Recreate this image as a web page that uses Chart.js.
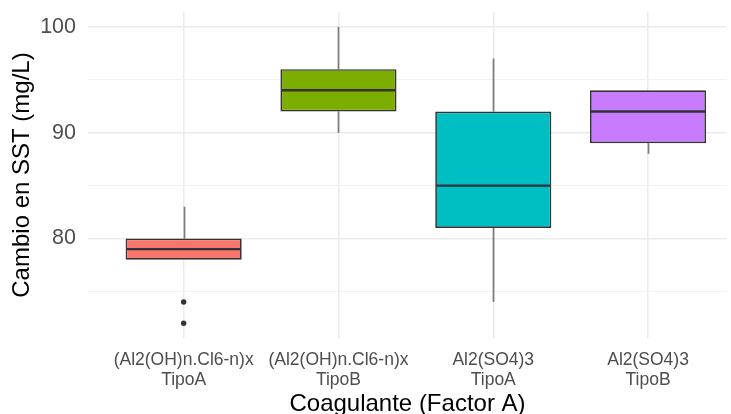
<!DOCTYPE html>
<html>
<head>
<meta charset="utf-8">
<title>Cambio en SST por coagulante</title>
<script src="https://cdn.jsdelivr.net/npm/chart.js@4.4.1/dist/chart.umd.min.js"></script>
<style>
  html, body { margin: 0; padding: 0; background: #ffffff; }
  #wrap { width: 731px; height: 414px; position: relative; }
</style>
</head>
<body>
<div id="wrap"><canvas id="chart"></canvas></div>
<script>
// Coagulant groups (two-line tick labels)
const categories = [
  ['(Al2(OH)n.Cl6-n)x', 'TipoA'],
  ['(Al2(OH)n.Cl6-n)x', 'TipoB'],
  ['Al2(SO4)3', 'TipoA'],
  ['Al2(SO4)3', 'TipoB']
];
// Five-number summaries of "Cambio en SST (mg/L)"
const lowerWhisker = [78, 90, 74, 88];
const q1           = [78, 92, 81, 89];
const median       = [79, 94, 85, 92];
const q3           = [80, 96, 92, 94];
const upperWhisker = [83, 100, 97, 94];
const outliers     = [[74, 72], [], [], []];
// Fill colour per group
const boxColors = ['#F8766D', '#7CAE00', '#00BFC4', '#C77CFF'];
// Y tick labels that are printed
const yTickLabels = [80, 90, 100];

const FONT = "'Liberation Sans', Arial, Helvetica, sans-serif";
const positions = categories.map((_, i) => i + 1);

const boxData = positions.map((x, i) => ({ x: x, y: [q1[i], q3[i]] }));
const outlierData = [];
outliers.forEach((vals, i) => vals.forEach(v => outlierData.push({ x: positions[i], y: v })));

// Whiskers under the boxes, medians on top of them
const boxplotLines = {
  id: 'boxplotLines',
  beforeDatasetsDraw(chart) {
    const { ctx, scales: { x, y } } = chart;
    ctx.save();
    ctx.strokeStyle = '#7A7A7A';
    ctx.lineWidth = 1.7;
    ctx.lineCap = 'butt';
    positions.forEach((p, i) => {
      const px = Math.round(x.getPixelForValue(p)) + 0.5;
      ctx.beginPath();
      ctx.moveTo(px, y.getPixelForValue(q3[i]));
      ctx.lineTo(px, y.getPixelForValue(upperWhisker[i]));
      ctx.moveTo(px, y.getPixelForValue(q1[i]));
      ctx.lineTo(px, y.getPixelForValue(lowerWhisker[i]));
      ctx.stroke();
    });
    ctx.restore();
  },
  afterDatasetsDraw(chart) {
    const { ctx, scales: { y } } = chart;
    const meta = chart.getDatasetMeta(0);
    ctx.save();
    ctx.strokeStyle = '#333333';
    ctx.lineWidth = 2.4;
    meta.data.forEach((bar, i) => {
      const { x, width } = bar.getProps(['x', 'width'], true);
      const py = y.getPixelForValue(median[i]);
      ctx.beginPath();
      ctx.moveTo(x - width / 2 + 1, py);
      ctx.lineTo(x + width / 2 - 1, py);
      ctx.stroke();
    });
    ctx.restore();
  }
};

new Chart(document.getElementById('chart'), {
  type: 'bar',
  data: {
    datasets: [
      {
        type: 'bar',
        data: boxData,
        backgroundColor: boxColors,
        borderColor: '#333333',
        borderWidth: 1.7,
        borderSkipped: false,
        categoryPercentage: 1,
        barPercentage: 0.75,
        order: 1
      },
      {
        type: 'scatter',
        data: outlierData,
        pointRadius: 2.7,
        pointBackgroundColor: '#333333',
        pointBorderWidth: 0,
        order: 0
      }
    ]
  },
  plugins: [boxplotLines],
  options: {
    responsive: true,
    maintainAspectRatio: false,
    animation: false,
    layout: { padding: { top: 12, right: 0, bottom: 0, left: 0 } },
    plugins: {
      legend: { display: false },
      tooltip: { enabled: false }
    },
    scales: {
      x: {
        type: 'linear',
        position: 'bottom',
        offset: false,
        min: 0.382,
        max: 4.51,
        afterFit(scale) {
          scale.height = 76;
          scale.paddingLeft = 0;
          scale.paddingRight = 0;
        },
        ticks: {
          stepSize: 1,
          includeBounds: false,
          autoSkip: false,
          maxRotation: 0,
          padding: 12,
          color: '#4D4D4D',
          font: { family: FONT, size: 17.5, lineHeight: 1.143 },
          callback: (v) => categories[v - 1] || ''
        },
        grid: { color: '#EBEBEB', lineWidth: 1.5, drawTicks: false, offset: false },
        border: { display: false },
        title: {
          display: true,
          text: 'Coagulante (Factor A)',
          color: '#000000',
          font: { family: FONT, size: 24, lineHeight: 1.2 },
          padding: { top: 0, bottom: -4.4 }
        }
      },
      y: {
        min: 70.6,
        max: 101.4,
        afterFit(scale) {
          scale.width = 88;
          scale.paddingTop = 0;
          scale.paddingBottom = 0;
        },
        ticks: {
          stepSize: 5,
          includeBounds: false,
          padding: 12,
          color: '#4D4D4D',
          font: { family: FONT, size: 21.5 },
          callback: (v) => yTickLabels.includes(v) ? String(v) : ''
        },
        grid: {
          drawTicks: false,
          color: (c) => (c.tick && c.tick.value % 10 === 0) ? '#EBEBEB' : '#F2F2F2',
          lineWidth: (c) => (c.tick && c.tick.value % 10 === 0) ? 1.5 : 1.1
        },
        border: { display: false },
        title: {
          display: true,
          text: 'Cambio en SST (mg/L)',
          color: '#000000',
          font: { family: FONT, size: 24, lineHeight: 1.2 },
          padding: { top: 7.5, bottom: 0 }
        }
      }
    }
  }
});
</script>
</body>
</html>
